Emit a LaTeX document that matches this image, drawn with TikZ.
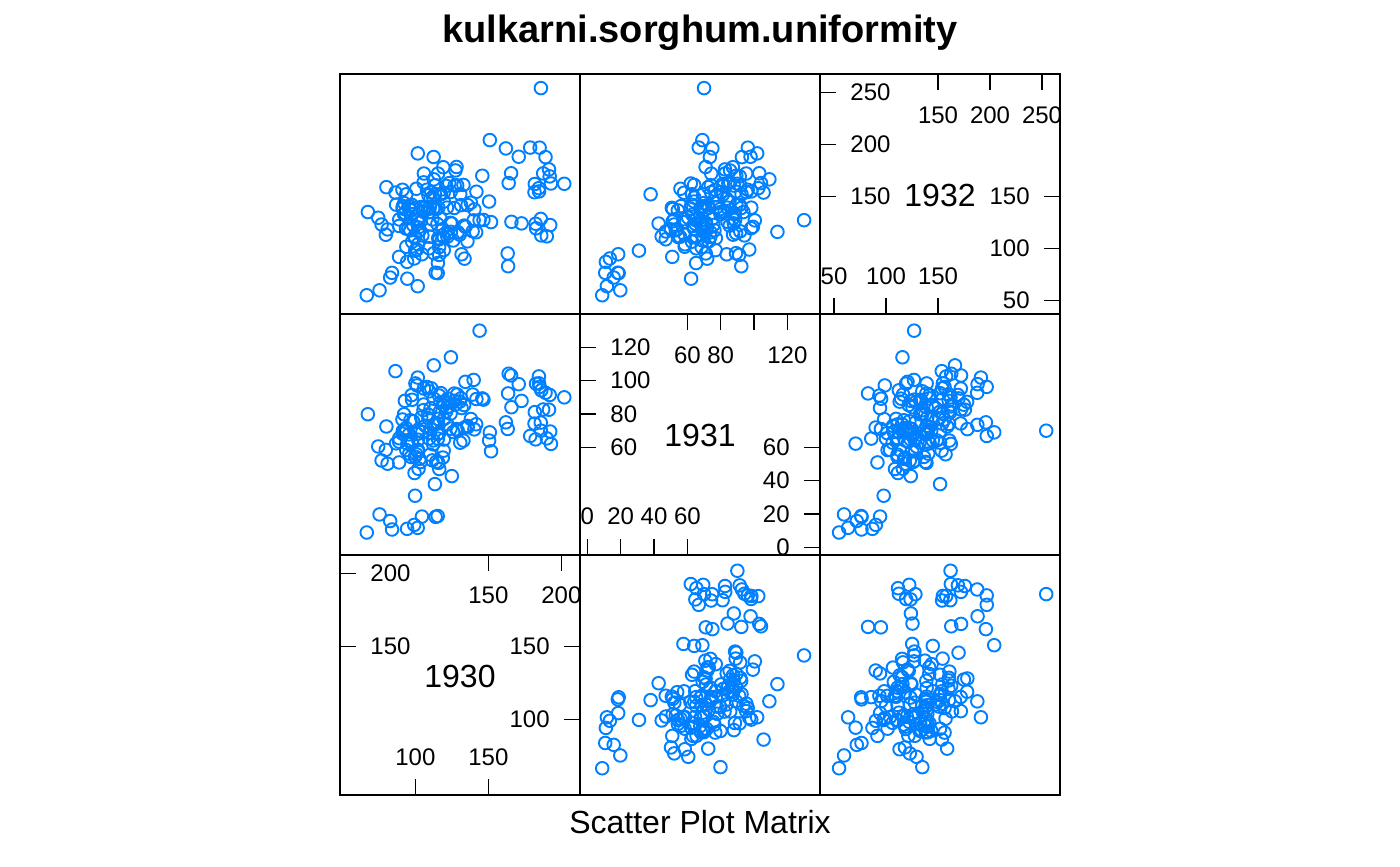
\documentclass[tikz,border=0pt]{standalone}
\usepackage{fontspec}
\setmainfont{Liberation Sans}
\definecolor{splomblue}{RGB}{0,128,255}
\tikzset{
  panelbox/.style={draw=black,line width=1pt},
  axistick/.style={draw=black,line width=0.6pt},
  ticklabel/.style={font=\fontsize{12}{14}\selectfont,inner sep=0pt},
  varname/.style={font=\fontsize{16}{19}\selectfont,inner sep=0pt},
  sorghumdot/.style={draw=splomblue,line width=0.95pt}
}
\newcommand\sorghumpoint[3]{%
  \draw[sorghumdot]
    ({340+ua(#1)},{314.3-uc(#3)}) circle[radius=3.15pt]
    ({580+ub(#2)},{314.3-uc(#3)}) circle[radius=3.15pt]
    ({340+ua(#1)},{554.7-ub(#2)}) circle[radius=3.15pt]
    ({820+uc(#3)},{554.7-ub(#2)}) circle[radius=3.15pt]
    ({580+ub(#2)},{795-ua(#1)}) circle[radius=3.15pt]
    ({820+uc(#3)},{795-ua(#1)}) circle[radius=3.15pt];}
\begin{document}
\begin{tikzpicture}[x=0.5pt,y=-0.5pt,
    declare function={ua(\v)=(\v-48.4)*1.46; ub(\v)=(\v+4.4)*1.667; uc(\v)=(\v-36.5)*1.04;}]
  \useasboundingbox[fill=white] (0,0) rectangle (1400,866);
  \node[font=\bfseries\fontsize{19}{23}\selectfont,inner sep=0pt,anchor=base] (title) at (700,42.5) {kulkarni.sorghum.uniformity};
  \node[font=\fontsize{16}{19}\selectfont,inner sep=0pt,anchor=base] (xlab) at (700,833.3) {Scatter Plot Matrix};
  % points
  \pgfmathsetseed{1930}
  \foreach \i in {1,...,124}{
    \pgfmathsetmacro\za{rand+rand+rand}
    \pgfmathsetmacro\zb{rand+rand+rand}
    \pgfmathsetmacro\zc{rand+rand+rand}
    \pgfmathsetmacro\va{max(52,min(160,110+17*\za))}
    \pgfmathsetmacro\vb{max(18,min(128,72+15*\zb+3*\za))}
    \pgfmathsetmacro\vc{max(60,min(215,130+24*\zc+7*\zb))}
    \sorghumpoint{\va}{\vb}{\vc}
  }
  \foreach \i in {1,...,24}{
    \pgfmathsetmacro\va{178+15*rand}
    \pgfmathsetmacro\vb{84+13*(rand+rand+rand)}
    \pgfmathsetmacro\vc{136+62*rand}
    \sorghumpoint{\va}{\vb}{\vc}
  }
  \foreach \i in {1,...,10}{
    \pgfmathsetmacro\vt{rnd}
    \pgfmathsetmacro\va{56+62*\vt+4*rand}
    \pgfmathsetmacro\vb{4+14*rnd+6*\vt}
    \pgfmathsetmacro\vc{50+35*rnd+15*\vt}
    \sorghumpoint{\va}{\vb}{\vc}
  }
  \sorghumpoint{186}{70}{254}
  \sorghumpoint{144}{130}{127}
  \sorghumpoint{202}{90}{162}
  \sorghumpoint{151}{69}{204}
  \sorghumpoint{162}{75}{196}
  % panels
  \foreach \c in {340,580,820}
    \foreach \r in {74,314.3,554.7}
      \draw[panelbox] (\c,\r) rectangle ++(240,240.3);
  % 1930
  \begin{scope}
    \clip (340,554.7) rectangle (580,795);
    \node[varname] (v1930) at (460,676) {1930};
    \foreach \v in {150,200}{
      \draw[axistick] (340,{795-ua(\v)}) -- ++(16,0);
      \node[ticklabel,anchor=west] (l1930\v) at (370,{795-ua(\v)}) {\v};
      \draw[axistick] ({340+ua(\v)},554.7) -- ++(0,16);
      \node[ticklabel] (t1930\v) at ({340+ua(\v)},595.7) {\v};
    }
    \foreach \v in {100,150}{
      \draw[axistick] ({340+ua(\v)},795) -- ++(0,-16);
      \node[ticklabel] (b1930\v) at ({340+ua(\v)},757) {\v};
      \draw[axistick] (580,{795-ua(\v)}) -- ++(-16,0);
      \node[ticklabel,anchor=east] (r1930\v) at (550,{795-ua(\v)}) {\v};
    }
  \end{scope}
  % 1931
  \begin{scope}
    \clip (580,314.3) rectangle (820,554.7);
    \node[varname] (v1931) at (700,435.5) {1931};
    \foreach \v in {60,80,100,120}{
      \draw[axistick] (580,{554.7-ub(\v)}) -- ++(16,0);
      \node[ticklabel,anchor=west] (l1931\v) at (610,{554.7-ub(\v)}) {\v};
      \draw[axistick] ({580+ub(\v)},314.3) -- ++(0,16);
    }
    \foreach \v in {60,80,120}
      \node[ticklabel] (t1931\v) at ({580+ub(\v)},355.3) {\v};
    \foreach \v in {0,20,40,60}{
      \draw[axistick] ({580+ub(\v)},554.7) -- ++(0,-16);
      \node[ticklabel] (b1931\v) at ({580+ub(\v)},516.7) {\v};
      \draw[axistick] (820,{554.7-ub(\v)}) -- ++(-16,0);
      \node[ticklabel,anchor=east] (r1931\v) at (790,{554.7-ub(\v)}) {\v};
    }
  \end{scope}
  % 1932
  \begin{scope}
    \clip (820,74) rectangle (1060,314.3);
    \node[varname] (v1932) at (940,195.2) {1932};
    \foreach \v in {150,200,250}{
      \draw[axistick] (820,{314.3-uc(\v)}) -- ++(16,0);
      \node[ticklabel,anchor=west] (l1932\v) at (850,{314.3-uc(\v)}) {\v};
      \draw[axistick] ({820+uc(\v)},74) -- ++(0,16);
      \node[ticklabel] (t1932\v) at ({820+uc(\v)},115) {\v};
    }
    \foreach \v in {50,100,150}{
      \draw[axistick] ({820+uc(\v)},314.3) -- ++(0,-16);
      \node[ticklabel] (b1932\v) at ({820+uc(\v)},276.3) {\v};
      \draw[axistick] (1060,{314.3-uc(\v)}) -- ++(-16,0);
      \node[ticklabel,anchor=east] (r1932\v) at (1030,{314.3-uc(\v)}) {\v};
    }
  \end{scope}
\end{tikzpicture}
\end{document}
